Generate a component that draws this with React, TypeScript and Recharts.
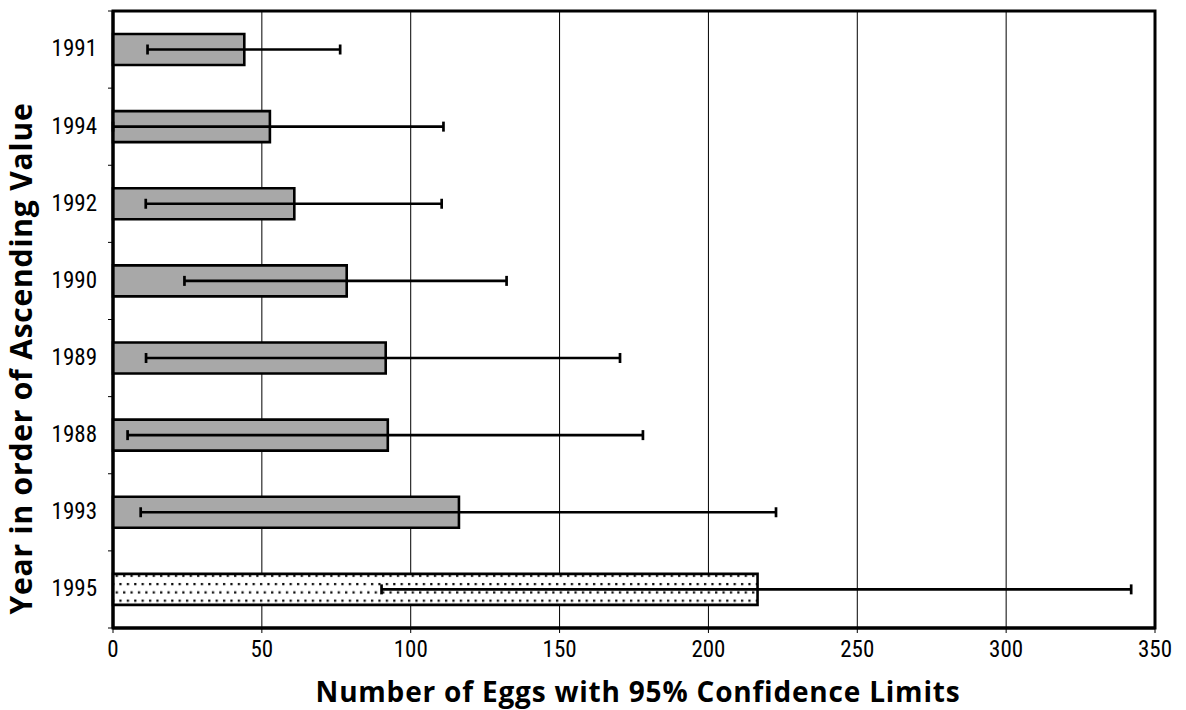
import React from "react";
import { BarChart, Bar, XAxis, YAxis, CartesianGrid, ErrorBar, Label, Cell, ReferenceArea } from "recharts";

const years = ["1991", "1994", "1992", "1990", "1989", "1988", "1993", "1995"];
const eggs = [44.1, 52.7, 60.9, 78.5, 91.6, 92.3, 116.2, 216.5];
const lower95 = [11.6, 0, 11, 24, 11.1, 4.9, 9.3, 90.2];
const upper95 = [76.3, 111, 110.4, 132.2, 170.3, 178, 222.7, 342];
const xTicks = [0, 50, 100, 150, 200, 250, 300, 350];
const highlightYear = "1995";

const data = years.map((y, i) => ({
  year: y,
  eggs: eggs[i],
  err: [eggs[i] - lower95[i], upper95[i] - eggs[i]],
}));

const TICK_FONT = "'Liberation Sans Narrow', 'Roboto Condensed', 'Liberation Sans', sans-serif";
const TITLE_FONT = "'Open Sans', Lato, sans-serif";

const YTick = (props: any) => {
  const { x, y, payload, index } = props;
  const off = payload && payload.offset != null ? payload.offset : 38.5;
  const x1 = x + 11;
  const x2 = x + 16;
  return (
    <g>
      <text x={x} y={y} dy="0.3em" textAnchor="end" fontSize={23} fontFamily={TICK_FONT} fill="#000">
        {payload.value}
      </text>
      <line x1={x1} x2={x2} y1={y - off} y2={y - off} stroke="#000" strokeWidth={1} />
      {index === years.length - 1 && (
        <line x1={x1} x2={x2} y1={y + off} y2={y + off} stroke="#000" strokeWidth={1} />
      )}
    </g>
  );
};

const XTitle = (props: any) => {
  const vb = props.viewBox || { x: 113, y: 628, width: 1042, height: 82 };
  return (
    <text
      x={vb.x + vb.width / 2 + 4}
      y={vb.y + 74}
      textAnchor="middle"
      fontSize={28}
      fontWeight={700}
      fontFamily={TITLE_FONT}
      letterSpacing={0.8}
      fill="#000"
    >
      Number of Eggs with 95% Confidence Limits
    </text>
  );
};

const YTitle = (props: any) => {
  const vb = props.viewBox || { x: 0, y: 11, width: 113, height: 617 };
  const cx = vb.x + 32;
  const cy = vb.y + vb.height / 2 + 39;
  return (
    <text
      x={cx}
      y={cy}
      textAnchor="middle"
      transform={`rotate(-90, ${cx}, ${cy})`}
      fontSize={30}
      fontWeight={700}
      fontFamily={TITLE_FONT}
      letterSpacing={0.8}
      fill="#000"
    >
      Year in order of Ascending Value
    </text>
  );
};

export default function App() {
  return (
    <div style={{ position: "absolute", left: 0, top: 0, width: 1186, height: 710, background: "#fff" }}>
      <svg width={0} height={0} style={{ position: "absolute" }}>
        <defs>
          <pattern id="dots" patternUnits="userSpaceOnUse" width={7.4} height={16.6}>
            <rect x={0} y={0} width={7.4} height={16.6} fill="#fff" />
            <rect x={1} y={2} width={2.2} height={2.2} fill="#000" />
            <rect x={4.7} y={10.3} width={2.2} height={2.2} fill="#000" />
          </pattern>
        </defs>
      </svg>
      <BarChart
        width={1186}
        height={710}
        data={data}
        layout="vertical"
        margin={{ top: 11, right: 31, left: 0, bottom: 0 }}
        barCategoryGap={0}
      >
        <CartesianGrid horizontal={false} vertical={true} stroke="#000" strokeWidth={1} />
        <Bar dataKey="eggs" barSize={31} fill="#a8a8a8" stroke="#000" strokeWidth={2.6} isAnimationActive={false}>
          {data.map((d) => (
            <Cell key={d.year} fill={d.year === highlightYear ? "url(#dots)" : "#a8a8a8"} />
          ))}
          <ErrorBar dataKey="err" direction="x" width={5} stroke="#000" strokeWidth={2.7} isAnimationActive={false} />
        </Bar>
        <ReferenceArea x1={0} x2={350} fill="none" stroke="#000" strokeWidth={3} ifOverflow="visible" />
        <XAxis
          type="number"
          domain={[0, 350]}
          ticks={xTicks}
          interval={0}
          height={82}
          tickSize={5}
          tickMargin={8}
          tickLine={{ stroke: "#000", strokeWidth: 1 }}
          axisLine={{ stroke: "#000", strokeWidth: 3 }}
          tick={{ fontSize: 23, fontFamily: TICK_FONT, fill: "#000" }}
        >
          <Label content={<XTitle />} />
        </XAxis>
        <YAxis
          type="category"
          dataKey="year"
          width={113}
          tickSize={5}
          tickMargin={11}
          tickLine={false}
          axisLine={{ stroke: "#000", strokeWidth: 3 }}
          tick={<YTick />}
          interval={0}
        >
          <Label content={<YTitle />} />
        </YAxis>
      </BarChart>
    </div>
  );
}
